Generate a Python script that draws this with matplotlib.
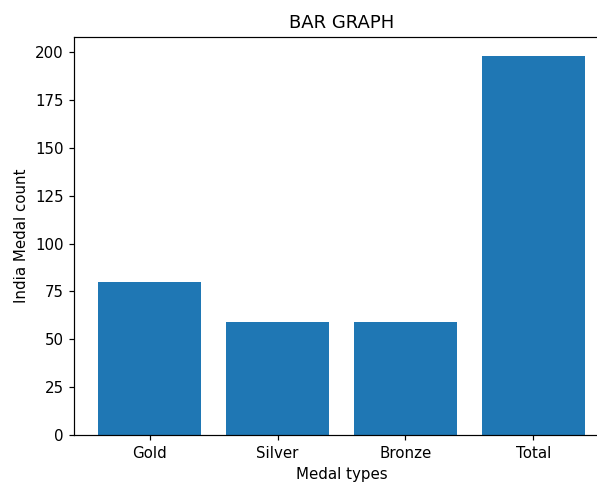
import matplotlib
matplotlib.use("Agg")
import matplotlib.pyplot as plt

medal_types = ["Gold", "Silver", "Bronze", "Total"]
india_counts = [80, 59, 59, 198]

DPI = 108
fig = plt.figure(figsize=(597 / DPI, 486 / DPI), dpi=DPI)
ax = fig.add_axes([74 / 597, 51 / 486, 535 / 597, 398 / 486])

ax.bar(medal_types, india_counts)
ax.set_title("BAR GRAPH")
ax.set_xlabel("Medal types")
ax.set_ylabel("India Medal count")

fig.savefig("out.png", dpi=DPI, facecolor="white")
